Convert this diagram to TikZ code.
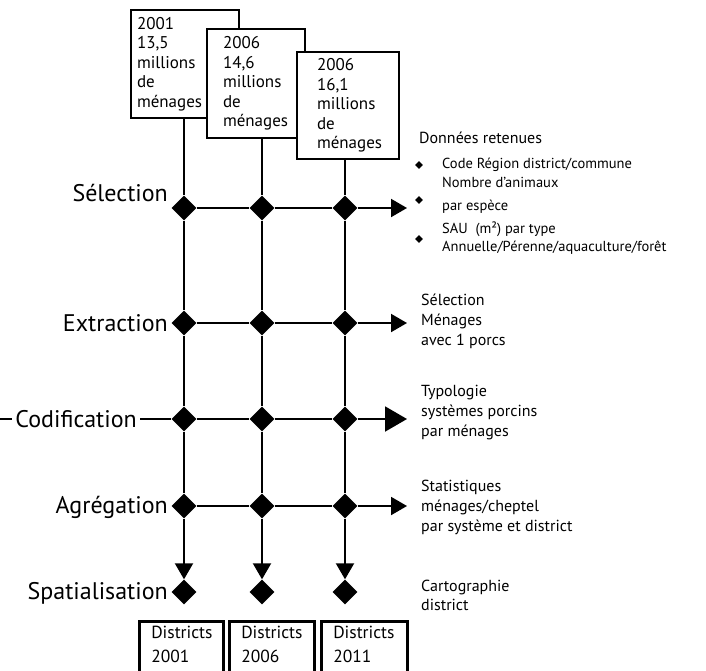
\documentclass[tikz,border=0pt]{standalone}
\usepackage{fontspec}
\setmainfont{PT Sans}
\usetikzlibrary{shapes.geometric,arrows.meta}

\tikzset{
  losange/.style={diamond, fill=black, inner sep=0pt, minimum size=25pt},
  puce/.style={diamond, fill=black, inner sep=0pt, minimum size=8pt},
  ligne/.style={line width=2pt},
  fleche/.style={line width=2pt, -{Triangle[length=16pt,width=18pt]}},
  grandefleche/.style={line width=2pt, -{Triangle[length=22pt,width=25pt]}},
  etape/.style={font=\fontsize{24}{28}\selectfont, anchor=east, inner sep=2pt},
  enquete/.style={draw, line width=2.5pt, fill=white, align=left,
    font=\fontsize{17}{19.5}\selectfont},
  district/.style={draw, line width=2.5pt, anchor=north west, align=left,
    inner ysep=5pt, inner xsep=12pt, text depth=60pt,
    font=\fontsize{17.5}{24}\selectfont},
  info/.style={anchor=west, align=left, inner sep=0pt,
    font=\fontsize{16}{20}\selectfont},
  donnee/.style={anchor=west, align=left, inner sep=0pt,
    font=\fontsize{14.5}{20}\selectfont},
}

\begin{document}
\begin{tikzpicture}[x=1pt, y=-1pt]
    \clip (0,0) rectangle (706,670);

    % recensements
    \node[enquete, minimum width=108pt, minimum height=108pt, text width=96pt, inner xsep=6pt] (box-a) at (185,64) {2001\\13,5\\millions\\de\\ménages};
    \node[enquete, minimum width=98pt, minimum height=109pt, text width=66pt, inner xsep=16pt] (box-b) at (256,83.5) {2006\\14,6\\millions\\de\\ménages};
    \node[enquete, minimum width=102pt, minimum height=107pt, text width=62pt, inner xsep=20pt] (box-c) at (348,105.5) {2006\\16,1\\millions\\de\\ménages};

    % grille des traitements
    \foreach \c/\x in {a/184, b/262, c/345}{
        \foreach \r/\y in {sel/208, ext/323, cod/419, agr/506, spa/592}{
            \node[losange] (\r-\c) at (\x,\y) {};
        }
    }
    \foreach \r/\y in {sel/208, ext/323, cod/419, agr/506}{
        \coordinate (bout-\r) at (407,\y);
    }

    \foreach \c in {a,b,c}{
        \draw[ligne] (box-\c.south -| sel-\c) -- (sel-\c) -- (ext-\c) -- (cod-\c) -- (agr-\c);
        \draw[fleche] (agr-\c) -- (spa-\c);
    }
    \foreach \r in {sel,ext,agr}{
        \draw[fleche] (\r-a) -- (\r-b) -- (\r-c) -- (bout-\r);
    }
    \draw[grandefleche] (cod-a) -- (cod-b) -- (cod-c) -- (bout-cod);

    % etapes
    \node[etape] (lab-sel) at (170,193) {Sélection};
    \node[etape] (lab-ext) at (170,323) {Extraction};
    \node[etape, inner sep=3pt] (lab-cod) at (140,419) {Codification};
    \node[etape] (lab-agr) at (170,507) {Agrégation};
    \node[etape] (lab-spa) at (170,593) {Spatialisation};
    \coordinate (debut-cod) at (0,419);
    \draw[ligne] (debut-cod) -- (lab-cod.west);
    \draw[ligne] (lab-cod.east) -- (cod-a);

    % donnees retenues
    \node[donnee, font=\fontsize{16}{20}\selectfont] (titre-donnees) at (419,138) {Données retenues};
    \node[puce] (puce-1) at (419,165) {};
    \node[puce] (puce-2) at (419,200) {};
    \node[puce] (puce-3) at (419,239) {};
    \node[donnee] (donnee-1) at (442,165) {Code Région district/commune};
    \node[donnee, font=\fontsize{14.5}{23}\selectfont] (donnee-2) at (442,195) {Nombre d’animaux\\par espèce};
    \node[donnee, font=\fontsize{14.5}{18}\selectfont] (donnee-3) at (442,238) {SAU\ \ (m²) par type\\Annuelle/Pérenne/aquaculture/forêt};

    % resultats
    \node[info] (info-ext) at (421,321) {Sélection\\Ménages\\avec 1 porcs};
    \node[info] (info-cod) at (421,413) {Typologie\\systèmes porcins\\par ménages};
    \node[info] (info-agr) at (421,507) {Statistiques\\ménages/cheptel\\par système et district};
    \node[info, font=\fontsize{16}{19}\selectfont] (info-spa) at (421,595) {Cartographie\\district};

    % districts
    \node[district, minimum width=84pt, text width=60pt] (dist-a) at (138,620) {Districts\\2001};
    \node[district, minimum width=85pt, text width=61pt] (dist-b) at (228,620) {Districts\\2006};
    \node[district, minimum width=86pt, text width=62pt] (dist-c) at (320,620) {Districts\\2011};
\end{tikzpicture}
\end{document}
